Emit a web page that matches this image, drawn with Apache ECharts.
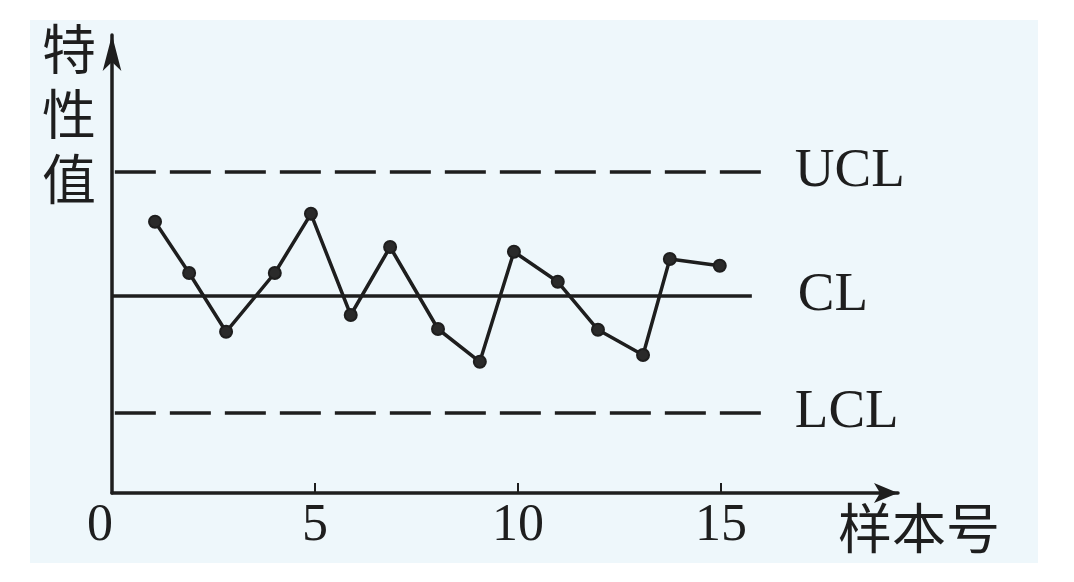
<!DOCTYPE html>
<html>
<head>
<meta charset="utf-8">
<script src="https://cdn.jsdelivr.net/npm/echarts@6/dist/echarts.min.js"></script>
<style>
  html, body { margin: 0; padding: 0; background: #ffffff; }
  #wrap { position: relative; width: 1074px; height: 582px; background: #ffffff; }
  #paper { position: absolute; left: 30px; top: 20px; width: 1008px; height: 543px; background: #eef7fb; }
  #chart { position: absolute; left: 0; top: 0; width: 1074px; height: 582px; }
</style>
</head>
<body>
<div id="wrap"><div id="paper"></div><div id="chart"></div></div>
<script>
// Sample positions as drawn (sample number) and characteristic values
const sampleNo = [1.06, 1.9, 2.81, 4.01, 4.9, 5.88, 6.85, 8.03, 9.06, 9.9, 10.98, 11.97, 13.08, 13.74, 14.97];
const values   = [6.78, 5.5, 4.03, 5.5, 6.98, 4.45, 6.15, 4.1, 3.28, 6.03, 5.28, 4.08, 3.45, 5.85, 5.68];
// Control limits
const UCL = 8.03;
const CL = 4.93;
const LCL = 2.0;
const limitNames = ['UCL', 'CL', 'LCL'];
// Extent of the limit lines along the sample axis
const dashedStart = 0.07, dashedEnd = 16.08;
const clStart = 0, clEnd = 15.76;
// Axis ticks and labels
const xTickValues = [5, 10, 15];
const xLabelValues = [0, 5, 10, 15];
const xName = '样本号';
const yName = '特性值';

const ink = '#1e1e1e';
const serif = '"Liberation Serif", "DejaVu Serif", serif';
const cjk = '"Noto Sans CJK SC", "Noto Sans CJK JP", sans-serif';

const chart = echarts.init(document.getElementById('chart'), null, { renderer: 'canvas' });

const limitLabel = (txt, dist) => ({
  show: true, position: 'end', formatter: txt, distance: dist,
  color: ink, fontFamily: serif, fontSize: 55
});

chart.setOption({
  backgroundColor: 'transparent',
  animation: false,
  grid: { left: 112, right: 176, top: 35, bottom: 89, containLabel: false, outerBoundsMode: 'none' },
  xAxis: {
    type: 'value', min: 0, max: 19.36,
    name: xName, nameLocation: 'end', nameGap: 21,
    nameTextStyle: { color: ink, fontFamily: cjk, fontSize: 54, align: 'center', verticalAlign: 'top', padding: [8, 0, 0, 0] },
    axisLine: { show: true, lineStyle: { color: ink, width: 3.5 }, symbol: ['none', 'arrow'], symbolSize: [15, 24] },
    axisTick: { show: true, inside: true, length: 10, lineStyle: { color: ink, width: 2 }, customValues: xTickValues },
    axisLabel: {
      show: true, customValues: xLabelValues, margin: 7,
      color: ink, fontFamily: serif, fontSize: 52,
      formatter: v => v === 0 ? '{z|0}' : String(v),
      rich: { z: { color: ink, fontFamily: serif, fontSize: 52, padding: [0, 24, 0, 0] } }
    },
    splitLine: { show: false }
  },
  yAxis: {
    type: 'value', min: 0, max: 11.45,
    name: yName.split('').join('\n'), nameLocation: 'end', nameGap: 18,
    nameTextStyle: { color: ink, fontFamily: cjk, fontSize: 54, lineHeight: 65, align: 'right', verticalAlign: 'top', padding: [0, 16, 0, 0] },
    axisLine: { show: true, lineStyle: { color: ink, width: 3.5 }, symbol: ['none', 'arrow'], symbolSize: [14, 36] },
    axisTick: { show: false },
    axisLabel: { show: false },
    splitLine: { show: false }
  },
  series: [{
    type: 'line',
    data: sampleNo.map((x, i) => [x, values[i]]),
    symbol: 'circle', symbolSize: 12,
    itemStyle: { color: '#2a2a2a', borderColor: ink, borderWidth: 2 },
    lineStyle: { color: ink, width: 3.5 },
    z: 5,
    markLine: {
      silent: true, symbol: ['none', 'none'], animation: false,
      data: [
        [{ coord: [dashedStart, UCL], lineStyle: { type: [41, 14], width: 3.5, color: ink }, label: limitLabel(limitNames[0], 30) }, { coord: [dashedEnd, UCL] }],
        [{ coord: [clStart, CL], lineStyle: { type: 'solid', width: 3.5, color: ink }, label: limitLabel(limitNames[1], 46) }, { coord: [clEnd, CL] }],
        [{ coord: [dashedStart, LCL], lineStyle: { type: [41, 14], width: 3.5, color: ink }, label: limitLabel(limitNames[2], 30) }, { coord: [dashedEnd, LCL] }]
      ]
    }
  }]
});
</script>
</body>
</html>
